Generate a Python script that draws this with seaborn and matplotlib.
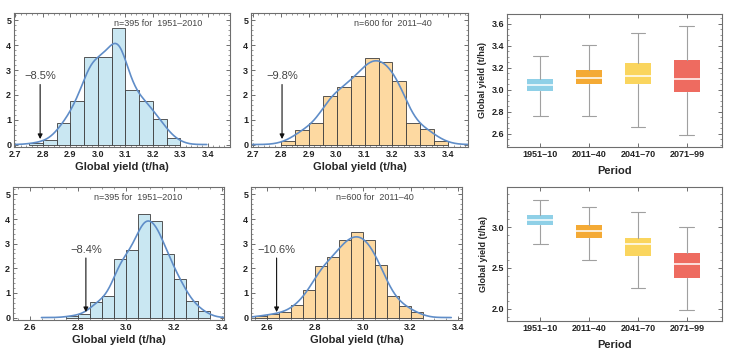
import matplotlib
matplotlib.use("Agg")
import matplotlib.pyplot as plt
import numpy as np
import pandas as pd
import seaborn as sns
from matplotlib.ticker import MultipleLocator

# histogram bins (left edges, width 0.05) and densities
bins_tl = [2.75, 2.80, 2.85, 2.90, 2.95, 3.00, 3.05, 3.10, 3.15, 3.20, 3.25]
dens_tl = [0.07, 0.19, 0.88, 1.74, 3.51, 3.51, 4.68, 2.19, 1.74, 1.01, 0.26]

bins_tm = [2.80, 2.85, 2.90, 2.95, 3.00, 3.05, 3.10, 3.15, 3.20, 3.25, 3.30, 3.35]
dens_tm = [0.14, 0.57, 0.86, 1.95, 2.30, 2.77, 3.50, 3.32, 2.54, 0.88, 0.64, 0.16]

bins_bl = [2.75, 2.80, 2.85, 2.90, 2.95, 3.00, 3.05, 3.10, 3.15, 3.20, 3.25, 3.30]
dens_bl = [0.07, 0.14, 0.62, 0.87, 2.38, 2.73, 4.21, 3.90, 2.56, 1.56, 0.66, 0.25]

bins_bm = [2.55, 2.60, 2.65, 2.70, 2.75, 2.80, 2.85, 2.90, 2.95, 3.00, 3.05, 3.10, 3.15, 3.20]
dens_bm = [0.07, 0.14, 0.22, 0.52, 1.10, 2.08, 2.45, 3.14, 3.46, 3.14, 2.13, 0.87, 0.48, 0.21]

labels_n = ["n=395 for  1951\u20132010", "n=600 for  2011\u201340",
            "n=395 for  1951\u20132010", "n=600 for  2011\u201340"]
drops = ["\u22128.5%", "\u22129.8%", "\u22128.4%", "\u221210.6%"]
drop_x = [2.79, 2.805, 2.832, 2.64]

# box plot summaries
periods = ["1951\u201310", "2011\u201340", "2041\u201370", "2071\u201399"]
top_lo = [2.76, 2.76, 2.66, 2.59]
top_q1 = [2.985, 3.05, 3.05, 2.98]
top_med = [3.04, 3.11, 3.13, 3.10]
top_q3 = [3.10, 3.18, 3.24, 3.27]
top_hi = [3.31, 3.41, 3.52, 3.58]

bot_lo = [2.79, 2.60, 2.26, 1.99]
bot_q1 = [3.02, 2.87, 2.65, 2.38]
bot_med = [3.09, 2.95, 2.79, 2.55]
bot_q3 = [3.15, 3.02, 2.87, 2.68]
bot_hi = [3.33, 3.24, 3.18, 3.00]

blue_fill = "#c9e7f2"
orange_fill = "#fdd9a1"
kde_col = "#5f8dc8"
box_cols = ["#8fd0e7", "#f4aa35", "#fad55e", "#ee6b60"]
frame_col = "#6e6e6e"

sns.set_style("ticks")
plt.rcParams["font.family"] = ["Liberation Sans", "DejaVu Sans"]

W, H = 743, 352
fig = plt.figure(figsize=(W / 100, H / 100), dpi=100)


def add_ax(l, t, r, b):
    return fig.add_axes([l / W, 1 - b / H, (r - l) / W, (b - t) / H])


def style_ax(ax):
    for s in ax.spines.values():
        s.set_color(frame_col)
        s.set_linewidth(0.8)
    ax.tick_params(which="both", direction="in", top=True, right=True,
                   color=frame_col, labelsize=6.5, pad=2)
    ax.tick_params(which="major", length=3, width=0.7)
    ax.tick_params(which="minor", length=1.5, width=0.5)
    for lab in ax.get_xticklabels() + ax.get_yticklabels():
        lab.set_fontweight("bold")
        lab.set_color("#222222")


def hist_panel(ax, bins, dens, fill, label_n, drop, dx, xlim, xmaj, xmin, ny):
    df = pd.DataFrame({"yield": np.array(bins) + 0.025, "dens": dens})
    edges = list(bins) + [bins[-1] + 0.05]
    sns.histplot(data=df, x="yield", weights="dens", bins=edges, stat="count",
                 color=fill, alpha=1, edgecolor="#3c3c3c", linewidth=0.6, ax=ax)
    sns.kdeplot(data=df, x="yield", weights="dens", bw_adjust=0.47, color=kde_col,
                linewidth=1.2, ax=ax, cut=2.5)
    ax.set_xlim(*xlim)
    ax.set_ylim(-0.1, 5.3)
    ax.xaxis.set_major_locator(MultipleLocator(xmaj))
    ax.xaxis.set_minor_locator(MultipleLocator(xmin))
    ax.yaxis.set_major_locator(MultipleLocator(1))
    ax.yaxis.set_minor_locator(MultipleLocator(0.2))
    ax.set_ylabel("")
    ax.set_xlabel("Global yield (t/ha)", fontsize=8, fontweight="bold", labelpad=2)
    ax.text(ny[0], ny[1], label_n, fontsize=6.5, color="#444444",
            ha="center", va="center")
    ax.annotate(drop, xy=(dx, 0.22), xytext=(dx, 2.55),
                fontsize=8, color="#444444", ha="center", va="bottom",
                arrowprops=dict(arrowstyle="-|>", color="#111111", lw=0.8,
                                mutation_scale=7, shrinkA=0, shrinkB=0))
    style_ax(ax)


def box_panel(ax, lo, q1, med, q3, hi, ylim, ymaj, ymin):
    stats = []
    for i in range(len(periods)):
        stats.append(dict(whislo=lo[i], q1=q1[i], med=med[i], q3=q3[i],
                          whishi=hi[i], fliers=[], label=periods[i]))
    bp = ax.bxp(stats, positions=range(len(periods)), widths=0.54,
                patch_artist=True, showfliers=False,
                boxprops=dict(linewidth=0),
                medianprops=dict(color="white", linewidth=1.1),
                whiskerprops=dict(color="#a0a0a0", linewidth=0.8),
                capprops=dict(color="#a0a0a0", linewidth=0.8),
                capwidths=0.3)
    for patch, c in zip(bp["boxes"], box_cols):
        patch.set_facecolor(c)
    ax.set_xlim(-0.68, 3.72)
    ax.set_ylim(*ylim)
    ax.yaxis.set_major_locator(MultipleLocator(ymaj))
    ax.yaxis.set_minor_locator(MultipleLocator(ymin))
    ax.set_xlabel("Period", fontsize=8, fontweight="bold", labelpad=5)
    ax.set_ylabel("Global yield (t/ha)", fontsize=6.5, fontweight="bold", labelpad=3)
    style_ax(ax)
    ax.tick_params(axis="x", which="minor", bottom=False, top=False)


ax1 = add_ax(14, 13, 230, 147)
hist_panel(ax1, bins_tl, dens_tl, blue_fill, labels_n[0], drops[0], drop_x[0],
           (2.695, 3.48), 0.1, 0.02, (3.22, 4.86))
ax2 = add_ax(251, 13, 468, 147)
hist_panel(ax2, bins_tm, dens_tm, orange_fill, labels_n[1], drops[1], drop_x[1],
           (2.694, 3.47), 0.1, 0.02, (3.2, 4.86))
ax3 = add_ax(507, 14, 722, 147)
box_panel(ax3, top_lo, top_q1, top_med, top_q3, top_hi, (2.48, 3.69), 0.2, 0.05)

ax4 = add_ax(13, 187, 224, 320)
hist_panel(ax4, bins_bl, dens_bl, blue_fill, labels_n[2], drops[2], drop_x[2],
           (2.527, 3.41), 0.2, 0.05, (3.05, 4.89))
ax5 = add_ax(251, 187, 462, 320)
hist_panel(ax5, bins_bm, dens_bm, orange_fill, labels_n[3], drops[3], drop_x[3],
           (2.533, 3.415), 0.2, 0.05, (3.05, 4.89))
ax6 = add_ax(507, 187, 722, 321)
box_panel(ax6, bot_lo, bot_q1, bot_med, bot_q3, bot_hi, (1.85, 3.49), 0.5, 0.1)

fig.savefig("out.png", dpi=100, facecolor="white")
